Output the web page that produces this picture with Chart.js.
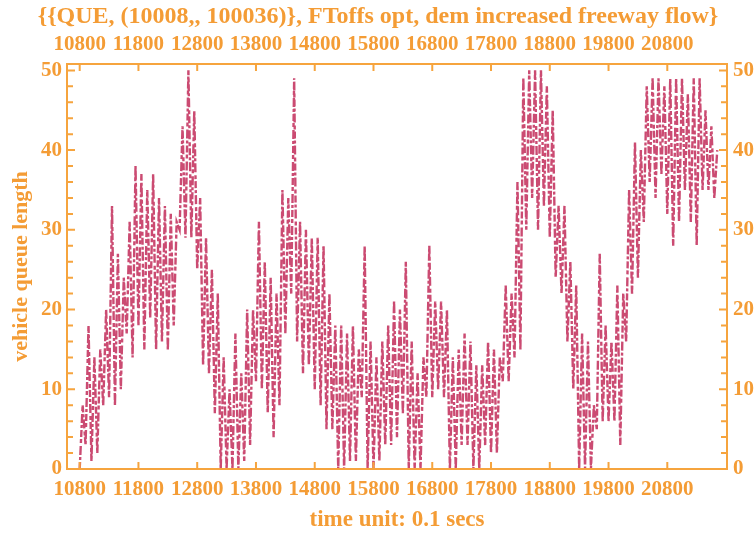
<!DOCTYPE html>
<html id="html">
<head>
<meta charset="utf-8">
<title>QUE queue length</title>
<script src="https://cdn.jsdelivr.net/npm/chart.js@4.4.1/dist/chart.umd.min.js"></script>
<style>
  html, body { margin: 0; padding: 0; background: #fff; }
  canvas { display: block; }
</style>
</head>
<body>
<canvas id="myChart" width="756" height="534"></canvas>
<script>
// time ticks (0.1 s units) shown on top and bottom
const xTicks = [10800, 11800, 12800, 13800, 14800, 15800, 16800, 17800, 18800, 19800, 20800]
const yTicks = [0, 10, 20, 30, 40, 50]

// queue length swings inside each 100-unit window: low then high
const windowStart = 10800
const windowSize = 100
const queueLow = [
  0, 3, 1, 2, 8, 9, 8, 10, 17, 14,
  18, 15, 19, 15, 16, 15, 18, 30, 29, 29,
  25, 13, 12, 7, 0, 0, 0, 0, 1, 3,
  11, 10, 7, 4, 8, 17, 22, 16, 12, 13,
  10, 8, 5, 5, 0, 0, 1, 1, 9, 0,
  0, 1, 3, 3, 4, 7, 0, 0, 0, 9,
  9, 10, 9, 0, 0, 3, 3, 0, 0, 3,
  2, 2, 11, 11, 14, 15, 30, 34, 30, 33,
  29, 24, 22, 16, 10, 0, 0, 0, 5, 6,
  6, 6, 3, 16, 22, 24, 31, 36, 34, 37,
  32, 28, 31, 35, 31, 28, 35, 35, 34
]
const queueHigh = [
  8, 18, 14, 15, 20, 33, 27, 24, 31, 38,
  37, 35, 37, 34, 33, 32, 31, 43, 50, 45,
  34, 29, 25, 22, 14, 10, 17, 12, 20, 20,
  31, 26, 24, 22, 35, 34, 49, 31, 30, 29,
  29, 28, 22, 18, 18, 17, 18, 15, 28, 16,
  14, 16, 18, 21, 20, 26, 16, 12, 14, 28,
  21, 21, 20, 14, 15, 17, 16, 13, 13, 16,
  15, 14, 23, 22, 36, 49, 50, 50, 50, 48,
  45, 33, 33, 26, 23, 17, 16, 8, 27, 18,
  16, 23, 22, 35, 41, 40, 48, 49, 49, 48,
  49, 49, 49, 47, 49, 49, 45, 43, 40
]

const orange = '#f49c35'
const frameOrange = '#f6a43e'
const serif = "'Liberation Serif', 'Times New Roman', serif"

const points = []
queueLow.forEach((lo, i) => {
  const t = windowStart + i * windowSize
  points.push({ x: t, y: lo })
  points.push({ x: t + windowSize / 2, y: queueHigh[i] })
})

// frame with inward ticks on all four sides
const frameTicks = {
  id: 'frameTicks',
  afterDatasetsDraw(chart) {
    const { ctx, chartArea: a, scales } = chart
    ctx.save()
    ctx.strokeStyle = frameOrange
    ctx.lineWidth = 2
    ctx.strokeRect(a.left, a.top, a.right - a.left, a.bottom - a.top)
    ctx.beginPath()
    xTicks.forEach(v => {
      const px = scales.x.getPixelForValue(v)
      ctx.moveTo(px, a.bottom); ctx.lineTo(px, a.bottom - 7)
      ctx.moveTo(px, a.top); ctx.lineTo(px, a.top + 7)
    })
    for (let v = 0; v <= 50; v += 2) {
      const py = scales.y.getPixelForValue(v)
      const len = v % 10 === 0 ? 8 : 6
      ctx.moveTo(a.left, py); ctx.lineTo(a.left + len, py)
      ctx.moveTo(a.right, py); ctx.lineTo(a.right - len, py)
    }
    ctx.stroke()
    ctx.restore()
  }
}

const tickFont = { family: serif, size: 21, weight: 'bold' }
const fixedTicks = list => scale => { scale.ticks = list.map(v => ({ value: v })) }

const ctx = document.getElementById('myChart')
const myChart = new Chart(ctx, {
  type: 'line',
  data: {
    datasets: [{
      data: points,
      borderColor: 'rgba(196, 50, 95, 0.88)',
      borderWidth: 2.4,
      borderDash: [7, 2, 3, 2, 9, 3, 4, 2],
      pointRadius: 0,
      tension: 0,
      fill: false
    }]
  },
  options: {
    responsive: false,
    animation: false,
    devicePixelRatio: 1,
    layout: { padding: 0 },
    plugins: {
      legend: { display: false },
      tooltip: { enabled: false },
      title: {
        display: true,
        text: '{{QUE, (10008,, 100036)}, FToffs opt, dem increased freeway flow}',
        font: { family: serif, size: 24, weight: 'bold', lineHeight: 1.25 },
        color: orange,
        padding: { top: 2, bottom: 0 }
      }
    },
    scales: {
      x: {
        type: 'linear', position: 'bottom', min: 10584, max: 21816,
        afterBuildTicks: fixedTicks(xTicks),
        afterFit: s => { s.height = 65 },
        grid: { display: false, drawTicks: false },
        border: { display: false },
        ticks: { font: tickFont, color: orange, padding: 8, maxRotation: 0, autoSkip: false, callback: v => String(v) },
        title: { display: true, text: 'time unit: 0.1 secs', font: { family: serif, size: 23, weight: 'bold' }, color: orange, padding: { top: 0, bottom: 0 } }
      },
      x2: {
        type: 'linear', position: 'top', min: 10584, max: 21816, display: true,
        afterBuildTicks: fixedTicks(xTicks),
        afterFit: s => { s.height = 32 },
        grid: { display: false, drawTicks: false },
        border: { display: false },
        ticks: { font: tickFont, color: orange, padding: 7, maxRotation: 0, autoSkip: false, callback: v => String(v) }
      },
      y: {
        type: 'linear', position: 'left', min: 0, max: 50.8,
        afterBuildTicks: fixedTicks(yTicks),
        afterFit: s => { s.width = 67 },
        grid: { display: false, drawTicks: false },
        border: { display: false },
        ticks: { font: tickFont, color: orange, padding: 5 },
        title: { display: true, text: 'vehicle queue length', font: { family: serif, size: 22, weight: 'bold' }, color: orange, padding: { top: 8, bottom: 0 } }
      },
      y2: {
        type: 'linear', position: 'right', min: 0, max: 50.8, display: true,
        afterBuildTicks: fixedTicks(yTicks),
        afterFit: s => { s.width = 29 },
        grid: { display: false, drawTicks: false },
        border: { display: false },
        ticks: { font: tickFont, color: orange, padding: 6 }
      }
    }
  },
  plugins: [frameTicks]
})
</script>
</body>
</html>
